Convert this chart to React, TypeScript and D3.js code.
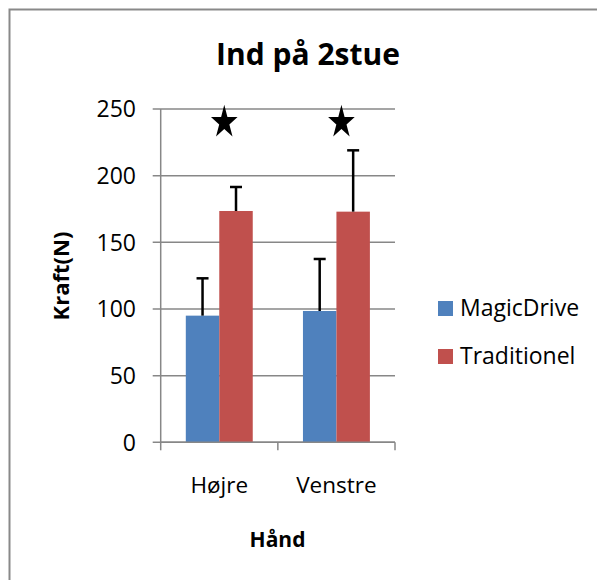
import React from 'react';
import * as d3 from 'd3';

// data
const categories = ['Højre', 'Venstre'];
const seriesNames = ['MagicDrive', 'Traditionel'];
const magicDrive = [95, 98.5];
const traditionel = [173.5, 173];
const magicDriveErr = [28, 39];
const traditionelErr = [18, 46];
const significant = [true, true];
const yTicks = [0, 50, 100, 150, 200, 250];

const colors = ['#4F81BD', '#C0504D'];
const font = '"Open Sans", "Noto Sans", sans-serif';

const App = () => {
  const width = 597;
  const height = 580;
  const plot = { left: 160.7, right: 395, top: 109, bottom: 442.3 };

  const x = d3.scaleBand().domain(categories).range([plot.left, plot.right]).padding(0);
  const xInner = d3.scaleBand()
    .domain(seriesNames)
    .range([0, x.bandwidth()])
    .paddingInner(0)
    .paddingOuter(0.75);
  const y = d3.scaleLinear().domain([0, 250]).range([plot.bottom, plot.top]);

  const values = [magicDrive, traditionel];
  const errors = [magicDriveErr, traditionelErr];

  const bars = [];
  seriesNames.forEach((s, si) => {
    categories.forEach((c, ci) => {
      bars.push({ s, si, c, v: values[si][ci], e: errors[si][ci] });
    });
  });

  // stretched five-point star (matches the glyph used in the original)
  const starPath = (rx, ry) => {
    const pts = d3.range(10).map(i => {
      const a = -Math.PI / 2 + (i * Math.PI) / 5;
      const r = i % 2 === 0 ? 1 : 0.382;
      return [Math.cos(a) * rx * r, Math.sin(a) * ry * r];
    });
    return d3.line()(pts) + 'Z';
  };

  return (
    <svg width={width} height={height} style={{ position: 'absolute', left: 0, top: 0 }} fontFamily={font}>
      <rect x={0} y={0} width={width} height={height} fill="#fff" />
      <rect x={9.5} y={9.5} width={620} height={620} fill="none" stroke="#898989" strokeWidth={2} />

      {/* title */}
      <text x={308} y={65} textAnchor="middle" fontSize={30} fontWeight="bold">Ind på 2stue</text>

      {/* gridlines + y ticks */}
      {yTicks.map(t => (
        <g key={t}>
          <line x1={plot.left - 8} x2={plot.right} y1={y(t)} y2={y(t)} stroke="#878787" strokeWidth={1.5} />
          <text x={136} y={y(t)} dy="0.36em" textAnchor="end" fontSize={23}>{t}</text>
        </g>
      ))}

      {/* y axis */}
      <line x1={plot.left} x2={plot.left} y1={plot.top} y2={plot.bottom} stroke="#878787" strokeWidth={1.5} />

      {/* bars */}
      {bars.map(b => (
        <rect
          key={b.s + b.c}
          x={x(b.c) + xInner(b.s)}
          width={xInner.bandwidth()}
          y={y(b.v)}
          height={y(0) - y(b.v)}
          fill={colors[b.si]}
        />
      ))}

      {/* x axis with ticks between categories */}
      <line x1={plot.left} x2={plot.right} y1={plot.bottom} y2={plot.bottom} stroke="#878787" strokeWidth={1.5} />
      {[...categories.map(c => x(c)), plot.right].map((tx, i) => (
        <line key={i} x1={tx} x2={tx} y1={plot.bottom} y2={plot.bottom + 8} stroke="#878787" strokeWidth={1.5} />
      ))}

      {/* error bars (plus only) */}
      {bars.map(b => {
        const cx = x(b.c) + xInner(b.s) + xInner.bandwidth() / 2;
        return (
          <g key={'e' + b.s + b.c} stroke="#000" strokeWidth={2.5}>
            <line x1={cx} x2={cx} y1={y(b.v)} y2={y(b.v + b.e)} />
            <line x1={cx - 6} x2={cx + 6} y1={y(b.v + b.e)} y2={y(b.v + b.e)} />
          </g>
        );
      })}

      {/* significance stars */}
      {categories.map((c, i) => significant[i] && (
        <path
          key={'s' + c}
          d={starPath(14, 17.5)}
          transform={`translate(${x(c) + x.bandwidth() / 2 + 5}, ${y(240)})`}
          fill="#000"
        />
      ))}

      {/* category labels */}
      {categories.map(c => (
        <text key={c} x={x(c) + x.bandwidth() / 2} y={493} textAnchor="middle" fontSize={22.5}>{c}</text>
      ))}

      {/* axis titles */}
      <text x={277.5} y={546.5} textAnchor="middle" fontSize={21} fontWeight="bold">Hånd</text>
      <text transform="translate(69, 276) rotate(-90)" textAnchor="middle" fontSize={22} fontWeight="bold">Kraft(N)</text>

      {/* legend */}
      {seriesNames.map((s, i) => (
        <g key={s} transform={`translate(438, ${301 + i * 48})`}>
          <rect x={0} y={0} width={15} height={15} fill={colors[i]} />
          <text x={22} y={15} fontSize={23}>{s}</text>
        </g>
      ))}
    </svg>
  );
};

export default App;
